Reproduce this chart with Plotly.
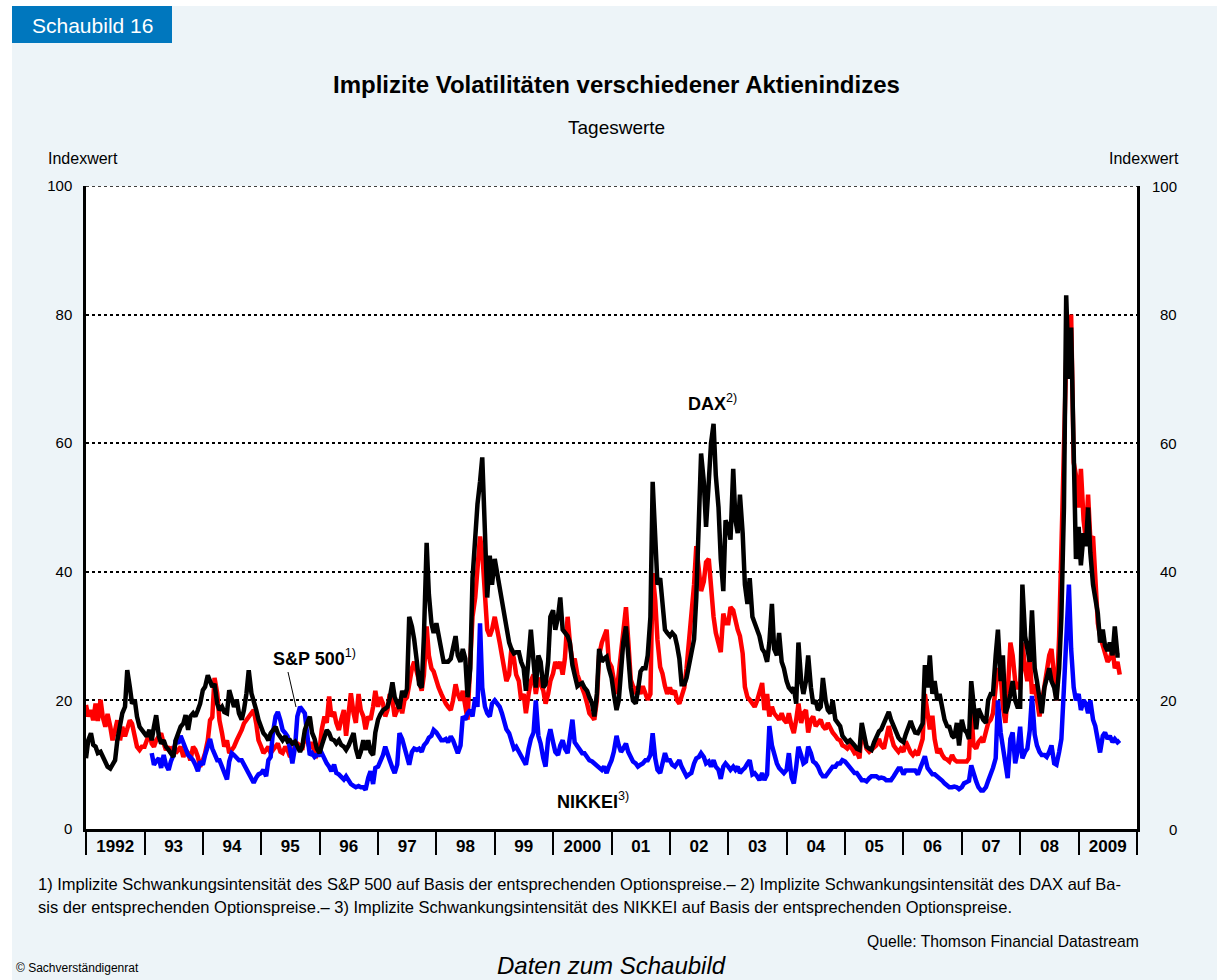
import datetime as dt
import plotly.graph_objects as go

# ---------------- data (semi-monthly readings: 1st and 15th of each month) ----------------
years = list(range(1992, 2010))

dax = [
    [11.0, 13.8, 14.9, 13.1, 12.8, 11.8, 12.0, 11.2, 10.7, 9.7, 9.4, 10.2, 10.7, 13.8, 15.9, 18.0, 19.0, 24.7, 22.1, 19.5, 20.1, 17.5, 15.9, 15.4],  # 1992
    [14.9, 14.4, 15.4, 13.8, 15.9, 17.7, 14.4, 13.3, 13.8, 12.8, 12.3, 11.8, 11.2, 13.8, 14.9, 15.9, 16.4, 17.7, 15.4, 17.5, 18.0, 17.5, 18.5, 19.5],  # 1993
    [21.6, 22.1, 23.9, 23.1, 22.1, 22.6, 19.5, 18.5, 19.0, 18.2, 18.0, 21.6, 20.1, 19.0, 20.1, 18.0, 17.0, 18.5, 21.1, 24.7, 21.1, 20.1, 18.5, 17.0],  # 1994
    [15.9, 14.9, 14.4, 13.8, 14.9, 15.4, 15.9, 14.9, 14.4, 13.8, 14.4, 13.6, 13.8, 13.3, 13.6, 12.8, 12.0, 12.8, 15.4, 16.4, 17.5, 15.0, 14.0, 12.5],  # 1995
    [11.8, 13.0, 14.5, 15.4, 14.9, 14.0, 13.8, 13.3, 13.8, 13.1, 12.8, 12.3, 13.0, 14.0, 14.9, 12.5, 11.0, 12.0, 13.8, 12.3, 13.8, 12.0, 11.5, 15.0],  # 1996
    [17.0, 17.8, 18.5, 18.7, 19.0, 20.3, 22.8, 20.5, 19.5, 18.7, 21.5, 20.5, 21.8, 33.0, 31.5, 29.5, 26.0, 22.5, 22.0, 30.0, 44.5, 36.5, 32.0, 30.5],  # 1997
    [32.0, 30.0, 27.5, 26.0, 26.0, 26.0, 26.5, 28.5, 30.0, 27.0, 26.0, 28.0, 26.5, 20.5, 25.0, 39.0, 47.0, 50.5, 54.0, 57.8, 46.0, 36.0, 42.5, 38.0],  # 1998
    [42.0, 40.0, 38.0, 36.0, 34.0, 31.0, 29.0, 28.0, 27.3, 27.5, 27.5, 26.0, 25.0, 21.5, 28.0, 31.0, 26.0, 22.0, 27.0, 26.0, 22.0, 22.5, 26.0, 33.0],  # 1999
    [34.0, 31.0, 33.0, 36.0, 31.0, 30.4, 30.0, 29.0, 25.5, 24.0, 22.2, 22.5, 22.7, 22.0, 21.5, 20.5, 19.5, 17.5, 21.0, 28.0, 26.0, 26.5, 26.8, 25.0],  # 2000
    [23.5, 21.0, 18.5, 20.0, 24.0, 29.0, 31.5, 26.0, 22.0, 20.0, 19.5, 21.5, 24.5, 25.0, 25.0, 27.0, 33.0, 54.0, 45.0, 38.0, 39.0, 35.0, 31.0, 30.5],  # 2001
    [30.0, 30.5, 30.0, 28.5, 26.5, 22.5, 22.5, 23.5, 25.5, 27.5, 29.5, 36.0, 47.0, 58.4, 54.0, 47.0, 54.0, 60.0, 63.0, 55.0, 50.0, 42.0, 37.0, 48.0],  # 2002
    [47.0, 45.0, 56.0, 48.0, 46.0, 52.0, 46.0, 38.0, 35.0, 39.0, 33.0, 32.0, 31.0, 30.0, 28.0, 27.5, 26.0, 29.0, 35.0, 28.0, 27.0, 30.5, 26.0, 25.0],  # 2003
    [23.0, 22.0, 21.5, 22.0, 19.5, 29.0, 23.0, 21.0, 23.0, 27.0, 22.0, 19.5, 20.0, 18.5, 19.0, 23.5, 20.0, 18.5, 18.0, 20.0, 17.0, 16.5, 16.0, 14.5],  # 2004
    [14.0, 13.5, 13.8, 13.5, 13.0, 12.5, 12.3, 16.5, 14.0, 12.8, 12.5, 12.3, 13.5, 14.5, 15.2, 15.5, 16.5, 17.5, 18.2, 17.0, 16.0, 15.0, 14.2, 13.8],  # 2005
    [13.5, 14.7, 16.0, 16.8, 15.8, 15.0, 14.9, 15.5, 16.4, 25.5, 22.0, 27.0, 21.0, 23.0, 20.0, 21.0, 18.5, 17.0, 16.0, 15.9, 14.5, 14.2, 16.5, 13.0],  # 2006
    [17.0, 15.5, 15.0, 14.0, 23.0, 19.0, 15.5, 18.7, 17.5, 17.0, 16.5, 20.0, 21.0, 21.0, 27.0, 31.0, 23.0, 27.0, 18.0, 19.0, 21.0, 23.0, 20.0, 19.0],  # 2007
    [19.0, 38.0, 30.0, 28.0, 26.0, 34.0, 25.0, 23.0, 20.0, 18.0, 22.0, 23.5, 25.0, 23.0, 22.0, 20.0, 25.0, 33.0, 50.0, 83.0, 70.0, 78.0, 60.0, 42.0],  # 2008
    [47.0, 41.0, 46.0, 44.0, 50.0, 43.0, 38.0, 36.0, 33.5, 29.0, 31.0, 28.5, 27.7, 29.0, 27.0, 31.5, 27.0, 27.0],  # 2009
]

sp500 = [
    [19.3, 17.5, 18.5, 16.9, 19.5, 16.8, 20.1, 17.4, 15.9, 17.9, 15.9, 13.8, 15.4, 16.9, 13.8, 15.9, 14.4, 15.9, 16.9, 16.4, 14.4, 12.8, 12.3, 12.8],  # 1992
    [12.8, 13.8, 14.9, 13.3, 12.8, 13.8, 14.4, 14.9, 13.3, 12.3, 12.8, 11.8, 12.8, 11.8, 12.3, 12.8, 11.2, 12.3, 11.8, 10.7, 12.8, 12.3, 11.2, 9.7],  # 1993
    [10.7, 11.8, 13.8, 16.9, 17.4, 23.5, 21.1, 16.9, 14.9, 12.8, 13.8, 11.8, 12.3, 12.8, 13.8, 14.4, 15.4, 16.4, 16.9, 17.4, 17.9, 18.5, 16.4, 13.8],  # 1994
    [12.8, 11.8, 12.3, 12.8, 11.8, 12.3, 12.8, 13.3, 12.0, 11.8, 12.8, 12.3, 11.2, 12.0, 12.8, 13.3, 13.0, 12.3, 14.9, 13.8, 12.5, 13.5, 12.0, 11.5],  # 1995
    [12.3, 15.5, 17.5, 16.5, 20.6, 17.5, 18.2, 16.5, 15.4, 17.0, 18.5, 14.5, 19.0, 21.1, 18.0, 16.5, 21.0, 18.5, 17.5, 15.5, 17.5, 17.0, 19.0, 21.5],  # 1996
    [19.0, 20.5, 19.5, 17.5, 18.5, 21.0, 20.0, 17.5, 18.5, 19.5, 18.0, 20.0, 20.5, 23.0, 25.0, 26.0, 24.5, 23.0, 21.5, 24.0, 31.5, 27.0, 25.0, 24.5],  # 1997
    [23.0, 22.0, 21.0, 20.0, 19.5, 19.0, 18.5, 20.0, 22.5, 21.0, 20.0, 21.5, 19.0, 17.0, 26.0, 33.0, 36.0, 40.0, 45.5, 43.0, 36.0, 31.0, 30.0, 31.0],  # 1998
    [33.0, 31.5, 29.0, 27.0, 24.5, 23.0, 24.0, 28.0, 26.5, 24.0, 23.0, 20.1, 21.0, 18.0, 21.0, 23.0, 24.0, 21.0, 23.5, 22.5, 21.5, 19.5, 21.0, 23.0],  # 1999
    [24.2, 26.0, 25.0, 26.0, 24.0, 26.5, 33.0, 29.0, 26.0, 26.5, 24.0, 23.0, 22.0, 21.0, 19.5, 18.0, 17.5, 17.0, 20.0, 27.0, 29.0, 30.0, 31.0, 26.0],  # 2000
    [25.2, 23.2, 21.0, 24.2, 27.3, 30.4, 34.5, 29.4, 23.2, 22.2, 21.0, 22.2, 21.0, 22.2, 21.0, 20.1, 21.0, 39.8, 35.6, 29.4, 25.2, 24.2, 22.2, 21.0],  # 2001
    [22.0, 21.0, 21.5, 20.0, 19.5, 20.5, 22.0, 25.0, 29.0, 33.0, 38.0, 44.0, 40.0, 37.0, 38.5, 41.5, 42.0, 37.0, 33.0, 30.5, 28.5, 27.5, 33.5, 32.0],  # 2002
    [32.0, 34.5, 34.0, 32.0, 31.0, 30.0, 27.3, 22.1, 20.5, 20.1, 19.5, 19.0, 20.0, 21.5, 22.7, 18.5, 21.0, 17.5, 19.0, 18.0, 17.5, 17.0, 18.0, 17.0],  # 2003
    [16.5, 18.0, 16.0, 14.9, 17.0, 19.5, 16.5, 18.0, 18.5, 15.0, 17.0, 17.5, 16.0, 16.5, 17.0, 16.0, 15.5, 16.5, 15.5, 15.0, 14.5, 14.0, 13.8, 13.0],  # 2004
    [12.8, 12.5, 13.0, 12.5, 11.8, 12.0, 11.0, 15.5, 14.0, 12.5, 12.0, 12.3, 12.5, 13.0, 14.0, 13.0, 12.5, 14.5, 16.0, 14.5, 13.0, 12.5, 12.0, 12.5],  # 2005
    [12.0, 13.6, 12.5, 11.9, 11.5, 12.0, 11.5, 12.5, 14.0, 21.0, 17.6, 15.5, 17.6, 14.0, 11.8, 12.5, 11.5, 11.0, 10.8, 10.5, 11.5, 10.8, 10.5, 10.5],  # 2006
    [10.5, 10.5, 10.5, 11.0, 18.7, 13.0, 12.5, 13.5, 14.0, 13.5, 15.0, 16.5, 17.0, 18.0, 22.0, 25.0, 24.0, 19.0, 16.5, 21.0, 29.0, 27.0, 23.0, 22.0],  # 2007
    [22.0, 29.0, 25.0, 23.0, 27.0, 21.0, 22.5, 20.5, 17.5, 19.5, 22.5, 24.0, 27.0, 28.0, 23.0, 20.0, 30.0, 45.0, 61.0, 73.0, 76.0, 80.0, 57.0, 55.0],  # 2008
    [50.0, 56.0, 48.0, 45.0, 52.0, 45.0, 45.5, 38.0, 32.0, 30.0, 28.5, 27.0, 26.0, 26.5, 28.0, 25.0, 26.0, 24.0],  # 2009
]

nikkei = [
    [None] * 24,  # 1992 (no data)
    [None, None, None, 11.8, 10.0, 10.5, 11.0, 9.5, 11.5, 10.0, 9.2, 10.5, 11.5, 13.8, 13.3, 14.5, 13.5, 12.8, 11.5, 11.2, 10.7, 10.0, 9.0, 10.5],  # 1993
    [10.0, 11.5, 13.0, 14.0, 12.5, 11.5, 10.7, 10.7, 9.5, 8.7, 7.7, 10.5, 11.8, 11.5, 11.0, 10.7, 10.7, 10.0, 9.5, 8.7, 7.7, 7.2, 8.0, 8.5],  # 1994
    [8.7, 9.2, 8.2, 10.7, 11.2, 14.9, 17.5, 18.2, 16.9, 15.4, 14.9, 14.4, 12.3, 10.2, 12.8, 17.5, 19.0, 18.5, 18.0, 14.9, 11.5, 11.8, 11.2, 11.5],  # 1995
    [11.5, 11.8, 10.7, 10.2, 9.7, 9.0, 10.0, 8.7, 8.5, 8.0, 7.7, 8.2, 7.5, 7.0, 6.7, 6.5, 6.7, 6.5, 6.5, 6.1, 8.0, 9.0, 7.0, 9.5],  # 1996
    [9.7, 10.5, 11.5, 12.8, 11.5, 10.7, 9.5, 8.7, 10.0, 14.9, 14.0, 12.5, 11.0, 10.0, 12.0, 12.5, 12.3, 12.5, 12.0, 13.0, 13.5, 14.2, 14.5, 15.4],  # 1997
    [15.0, 14.5, 13.8, 13.8, 14.0, 13.5, 14.4, 13.8, 12.8, 11.8, 13.0, 17.5, 17.0, 18.0, 18.5, 17.5, 20.5, 19.0, 32.0, 22.0, 19.0, 18.0, 17.5, 19.5],  # 1998
    [20.0, 19.5, 19.0, 18.0, 17.0, 15.5, 14.9, 13.5, 12.5, 12.8, 12.0, 11.5, 10.5, 10.0, 12.5, 14.0, 15.0, 20.0, 14.5, 13.3, 11.0, 9.7, 14.0, 15.5],  # 1999
    [13.5, 12.0, 11.5, 13.0, 13.8, 12.5, 11.8, 14.0, 17.0, 13.5, 12.8, 12.3, 11.8, 11.8, 11.0, 10.7, 10.5, 10.2, 9.7, 9.5, 9.2, 9.7, 8.7, 9.7],  # 2000
    [10.7, 12.0, 14.5, 13.0, 12.0, 12.5, 13.3, 12.0, 11.0, 10.5, 10.2, 9.7, 10.0, 10.2, 10.7, 10.7, 11.5, 14.9, 11.0, 9.2, 8.7, 10.5, 11.8, 10.7],  # 2001
    [10.7, 10.0, 9.7, 10.2, 10.7, 9.7, 9.0, 8.2, 8.5, 8.7, 10.2, 11.0, 11.2, 11.8, 11.2, 10.2, 10.5, 9.7, 10.7, 9.7, 9.2, 7.8, 9.7, 10.2],  # 2002
    [9.7, 9.2, 9.7, 9.2, 9.7, 8.7, 9.2, 9.5, 10.2, 10.7, 8.5, 8.7, 8.2, 7.6, 8.7, 7.6, 8.5, 16.0, 13.0, 11.5, 10.2, 9.5, 9.0, 8.7],  # 2003
    [9.2, 11.8, 8.0, 7.1, 9.7, 12.8, 11.5, 10.2, 10.5, 12.8, 11.8, 10.5, 10.2, 9.7, 8.7, 8.2, 8.2, 8.7, 9.2, 9.7, 9.7, 10.2, 10.2, 10.7],  # 2004
    [10.5, 10.0, 9.5, 9.2, 8.7, 8.7, 8.2, 7.6, 7.6, 7.4, 7.9, 8.2, 8.2, 8.2, 7.9, 8.0, 7.9, 7.6, 7.6, 7.6, 8.2, 8.7, 9.4, 9.4],  # 2005
    [8.5, 9.1, 9.1, 9.1, 9.1, 9.1, 8.5, 9.5, 10.2, 11.3, 9.5, 9.1, 8.5, 8.5, 8.2, 7.9, 7.5, 7.1, 6.8, 6.5, 6.5, 6.6, 6.5, 6.2],  # 2006
    [6.5, 7.1, 7.3, 7.5, 9.9, 8.5, 7.4, 6.5, 6.0, 6.0, 6.5, 7.5, 8.5, 9.5, 11.0, 20.0, 15.0, 12.5, 10.0, 7.9, 14.0, 15.0, 10.2, 11.9],  # 2007
    [15.9, 11.0, 12.0, 12.5, 15.3, 20.7, 14.7, 13.0, 12.0, 11.5, 11.5, 11.2, 12.0, 13.0, 10.2, 10.0, 12.0, 14.0, 22.0, 31.0, 38.0, 28.0, 22.0, 20.0],  # 2008
    [21.0, 18.5, 20.0, 19.5, 18.0, 20.0, 17.0, 16.0, 13.5, 11.9, 14.5, 15.0, 14.0, 14.5, 13.5, 14.0, 13.5, 13.8],  # 2009
]

year_labels = ["1992", "93", "94", "95", "96", "97", "98", "99", "2000", "01", "02",
               "03", "04", "05", "06", "07", "08", "2009"]
y_ticks = [0, 20, 40, 60, 80, 100]


def flatten(rows):
    xs, ys = [], []
    for yr, row in zip(years, rows):
        for k, v in enumerate(row):
            xs.append(dt.date(yr, 1 + k // 2, 1 if k % 2 == 0 else 15))
            ys.append(v)
    return xs, ys


# ---------------- layout helpers (pixel -> paper) ----------------
L, R, T, B = 86, 1137, 186, 829
W, H = R - L, B - T


def px(x):
    return (x - L) / W


def py(y):
    return (B - y) / H


FONT = "Liberation Sans, Arial, sans-serif"

fig = go.Figure()
for rows, color in [(sp500, "#FF0000"), (nikkei, "#0000FF"), (dax, "#000000")]:
    xs, ys = flatten(rows)
    fig.add_trace(go.Scatter(x=xs, y=ys, mode="lines",
                             line=dict(color=color, width=4.5), hoverinfo="skip"))

fig.update_layout(
    width=1220, height=980,
    margin=dict(l=L, r=1220 - R, t=T, b=980 - B),
    paper_bgcolor="#EDF4F8", plot_bgcolor="white",
    showlegend=False,
    font=dict(family=FONT, color="black"),
)

fig.update_xaxes(
    type="date",
    range=["1992-01-01", "2010-01-01"],
    showgrid=False, zeroline=False,
    showline=True, linecolor="black", linewidth=3,
    tickmode="array",
    tickvals=[dt.date(y, 7, 2) for y in years],
    ticktext=year_labels,
    ticks="", ticklabelstandoff=0,
    tickfont=dict(size=17, weight="bold", family=FONT),
    minor=dict(tickmode="array",
               tickvals=[dt.date(y, 1, 1) for y in range(1992, 2011)],
               ticks="outside", ticklen=23, tickwidth=2, tickcolor="black",
               showgrid=False),
)
fig.update_yaxes(
    range=[0, 100], tickmode="array", tickvals=y_ticks,
    showgrid=True, gridcolor="black", gridwidth=1.5, griddash="dot",
    zeroline=False,
    showline=True, mirror=True, linecolor="black", linewidth=2.5,
    ticks="", ticklabelstandoff=8,
    tickfont=dict(size=15, family=FONT),
)

shapes = [
    # white page margins
    dict(type="rect", xref="paper", yref="paper", x0=px(0), x1=px(12), y0=py(980), y1=py(0),
         fillcolor="white", line=dict(width=0), layer="above"),
    dict(type="rect", xref="paper", yref="paper", x0=px(0), x1=px(1220), y0=py(6), y1=py(0),
         fillcolor="white", line=dict(width=0), layer="above"),
    dict(type="rect", xref="paper", yref="paper", x0=px(1217), x1=px(1220), y0=py(980), y1=py(0),
         fillcolor="white", line=dict(width=0), layer="above"),
    # header tab
    dict(type="rect", xref="paper", yref="paper", x0=px(12), x1=px(172), y0=py(43), y1=py(6),
         fillcolor="#0077BE", line=dict(width=0), layer="above"),
    # dotted top border at 100
    dict(type="line", xref="paper", yref="y", x0=0, x1=1, y0=100, y1=100,
         line=dict(color="black", width=1.5, dash="dot"), layer="below"),
    # leader line for S&P label
    dict(type="line", xref="paper", yref="paper", x0=px(288), y0=py(672), x1=px(296), y1=py(707),
         line=dict(color="black", width=1)),
]
fig.update_layout(shapes=shapes)


def note(text, x, y, size, xanchor="center", color="black", yanchor="middle", **kw):
    fig.add_annotation(text=text, x=px(x), y=py(y), xref="paper", yref="paper",
                       xanchor=xanchor, yanchor=yanchor, showarrow=False,
                       font=dict(size=size, color=color, family=FONT, **kw))


note("Schaubild 16", 30, 25, 21, xanchor="left", color="white")
note("<b>Implizite Volatilitäten verschiedener Aktienindizes</b>", 616, 84, 24)
note("Tageswerte", 616, 127, 19)
note("Indexwert", 46, 158, 16, xanchor="left")
note("Indexwert", 1181, 158, 16, xanchor="right")

for v in y_ticks:
    fig.add_annotation(text=str(v), x=px(1179), y=v, xref="paper", yref="y",
                       xanchor="right", showarrow=False, font=dict(size=15, family=FONT))

note("<b>S&amp;P 500</b><sup>1)</sup>", 271, 657, 18, xanchor="left")
note("<b>DAX</b><sup>2)</sup>", 686, 402, 18, xanchor="left")
note("<b>NIKKEI</b><sup>3)</sup>", 555, 800, 18, xanchor="left")

note("1) Implizite Schwankungsintensität des S&amp;P 500 auf Basis der entsprechenden Optionspreise.– "
     "2) Implizite Schwankungsintensität des DAX auf Ba-", 36, 884, 16.5, xanchor="left")
note("sis der entsprechenden Optionspreise.– 3) Implizite Schwankungsintensität des NIKKEI auf Basis "
     "der entsprechenden Optionspreise.", 36, 907, 16.5, xanchor="left")
note("Quelle: Thomson Financial Datastream", 1141, 942, 15.7, xanchor="right")
note("© Sachverständigenrat", 14, 968, 12, xanchor="left")
note("<i>Daten zum Schaubild</i>", 611, 966, 24)

fig.write_html("out.html", config={"displayModeBar": False},
               post_script="document.body.style.margin='0px';")
